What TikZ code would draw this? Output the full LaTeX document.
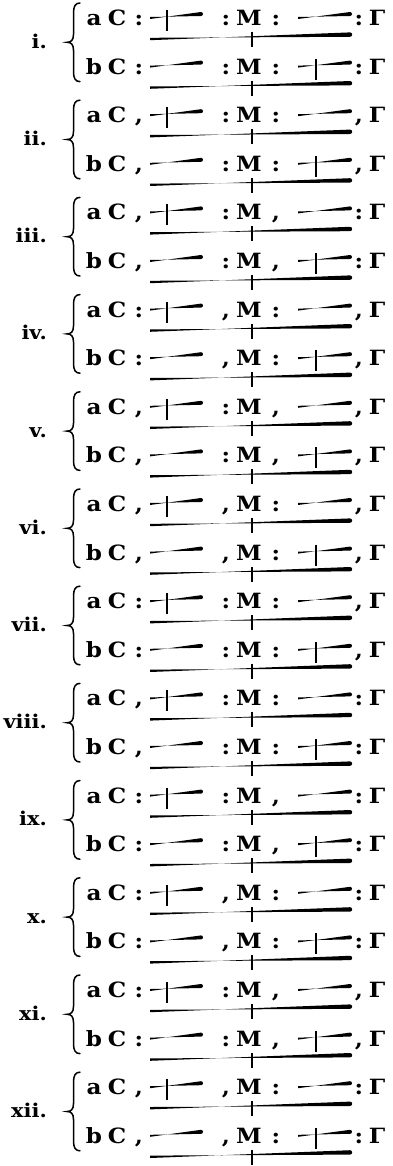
\documentclass[tikz,border=0pt]{standalone}
\usepackage{fontspec}
\setmainfont{DejaVu Serif}
\newfontfamily\wf{DejaVu Serif}[FakeStretch=1.1]
\newcommand\sepch[1]{\if#1c:\else,\fi}
\newcommand\mybar[5]{% x1, x2, y, left half-thickness, right half-thickness
  \fill (#1,#3-#4) -- (#2,#3-#5) arc[start angle=90,end angle=-90,radius=#5] -- (#1,#3+#4) -- cycle;}
\begin{document}
\begin{tikzpicture}[x=1pt,y=-1pt,
  txt/.style={inner sep=0pt, anchor=base, font=\wf\bfseries\fontsize{21}{21}\selectfont},
  lab/.style={inner sep=0pt, anchor=base east, font=\wf\bfseries\fontsize{19}{19}\selectfont},
  tick/.style={line width=1.5pt},
  bracestyle/.style={line width=1.5pt, line cap=round}]
\fill[white] (0,0) rectangle (392,1166);
\useasboundingbox (0,0) rectangle (392,1166);
\foreach \lab/\sa/\sb/\sc/\sd [count=\g from 0] in {
  i./c/c/c/c, ii./m/c/c/m, iii./m/c/m/c, iv./c/m/c/m,
  v./m/c/m/m, vi./m/m/c/m, vii./c/c/c/m, viii./m/c/c/c,
  ix./c/c/m/c, x./c/m/c/c, xi./c/c/m/m, xii./m/m/c/c}{
  \pgfmathsetmacro\ya{18+2*\g*48.6}
  \pgfmathsetmacro\yb{\ya+48.6}
  \pgfmathsetmacro\ym{\ya+24.3}
  \pgfmathsetmacro\yt{\ya-15}
  \pgfmathsetmacro\ybt{\yb+15}
  \node[lab] (lab\g) at (47,\ym+6) {\lab};
  \coordinate (bt\g) at (80,\yt);
  \coordinate (bb\g) at (80,\ybt);
  \coordinate (bm\g) at (67,\ym);
  \draw[bracestyle] (bt\g) .. controls (75.5,\yt) and (73.5,\yt+3) .. (73.5,\yt+10)
     -- (73.5,\ym-8) .. controls (73.5,\ym-2) and (71,\ym) .. (bm\g)
     .. controls (71,\ym) and (73.5,\ym+2) .. (73.5,\ym+8)
     -- (73.5,\ybt-10) .. controls (73.5,\ybt-3) and (75.5,\ybt) .. (bb\g);
  \foreach \r/\y in {a/\ya, b/\yb}{
    \node[txt] (\r l\g) at (94,\y+7.5) {\r};
    \node[txt] (\r C\g) at (117,\y+7.5) {C};
    \node[txt] (\r s1\g) at (139,\y+7.5) {\sepch\sa};
    \node[txt] (\r s2\g) at (226,\y+7.5) {\sepch\sb};
    \node[txt] (\r M\g) at (249,\y+7.5) {M};
    \node[txt] (\r s3\g) at (276,\y+7.5) {\sepch\sc};
    \node[txt] (\r s4\g) at (359,\y+7.5) {\sepch\sd};
    \node[txt] (\r G\g) at (377,\y+7.5) {Γ};
    \mybar{150}{201}{\y}{1.0}{2.0}
    \mybar{298}{350}{\y}{1.0}{2.0}
    \mybar{150}{350}{\y+21}{1.2}{2.2}
    \draw[tick] (252,\y+14) -- (252,\y+29);
  }
  \draw[tick] (167,\ya-8) -- (167,\ya+13);
  \draw[tick] (316,\yb-8) -- (316,\yb+13);
}
\end{tikzpicture}
\end{document}
